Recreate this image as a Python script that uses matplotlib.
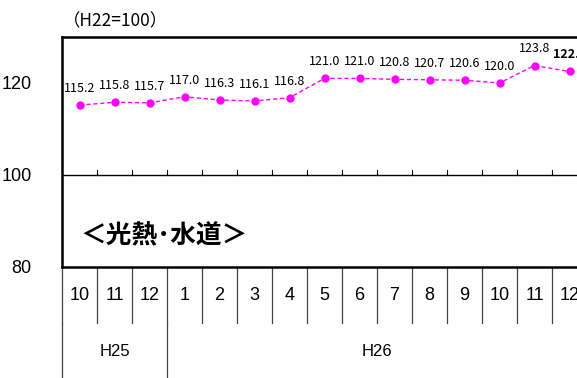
import numpy as np
import matplotlib.pyplot as plt

# index values (H22=100), Oct H25 .. Dec H26
months = ["10", "11", "12", "1", "2", "3", "4", "5", "6", "7", "8", "9", "10", "11", "12"]
values = [115.2, 115.8, 115.7, 117.0, 116.3, 116.1, 116.8, 121.0, 121.0,
          120.8, 120.7, 120.6, 120.0, 123.8, 122.5]
years = ["H25", "H26"]
year_spans = [(0, 3), (3, 15)]  # category index ranges for each year
yticks = [80, 100, 120]

jp = ["Noto Sans CJK JP", "DejaVu Sans"]
sans = ["Liberation Sans", "DejaVu Sans"]

fig = plt.figure(figsize=(5.77, 3.78), dpi=100)
# axes runs past the right edge of the picture, as in the reference
ax = fig.add_axes([62 / 577, 111 / 378, 525 / 577, 230 / 378])

x = np.arange(len(values))
ax.plot(x, values, color="#ff00ff", linestyle="--", linewidth=1.0,
        dashes=(3, 2), marker="o", markersize=5, zorder=3)

for i, v in enumerate(values):
    last = i == len(values) - 1
    ax.annotate(f"{v:.1f}", (i, v), xytext=(0, 12), textcoords="offset points",
                ha="center", va="center", fontsize=9, family=jp,
                fontweight="bold" if last else "normal", clip_on=False)

ax.set_xlim(-0.5, len(values) - 0.5)
ax.set_ylim(80, 130)
ax.set_yticks(yticks)
ax.set_yticklabels([str(t) for t in yticks], family=sans, fontsize=13)
ax.tick_params(axis="y", length=0, pad=22)
ax.set_xticks([])

for s in ["top", "left", "bottom"]:
    ax.spines[s].set_linewidth(1.8)
ax.spines["right"].set_visible(False)

# horizontal line at 100 with small ticks at category boundaries
ax.axhline(100, color="black", linewidth=1.0)
for b in np.arange(0.5, len(values) - 0.5):
    ax.plot([b, b], [100, 101.1], color="black", linewidth=0.8)

# table under the axis: months row and years row
tr = ax.get_xaxis_transform()
row1 = -56 / 230
row2 = -111 / 230
for b in np.arange(-0.5, len(values)):
    ax.plot([b, b], [0, row1], color="#444444", linewidth=0.9,
            transform=tr, clip_on=False)
for i, m in enumerate(months):
    ax.text(i, -29 / 230, m, transform=tr, ha="center", va="center",
            fontsize=13, family=sans)

for name, (a, b) in zip(years, year_spans):
    ax.plot([a - 0.5, a - 0.5], [row1, row2], color="#444444", linewidth=0.9,
            transform=tr, clip_on=False)
    ax.text((a + b - 1) / 2, -85 / 230, name, transform=tr, ha="center",
            va="center", fontsize=12, family=sans)

fig.text(63 / 577, 1 - 21 / 378, "（H22=100）", fontsize=12.5, family=jp,
         ha="left", va="center")
ax.text(80 / 577, 1 - 236 / 378, "＜光熱･水道＞", transform=fig.transFigure,
        fontsize=18.5, family=jp, fontweight="bold", ha="left", va="center")

fig.savefig("out.png", dpi=100)
